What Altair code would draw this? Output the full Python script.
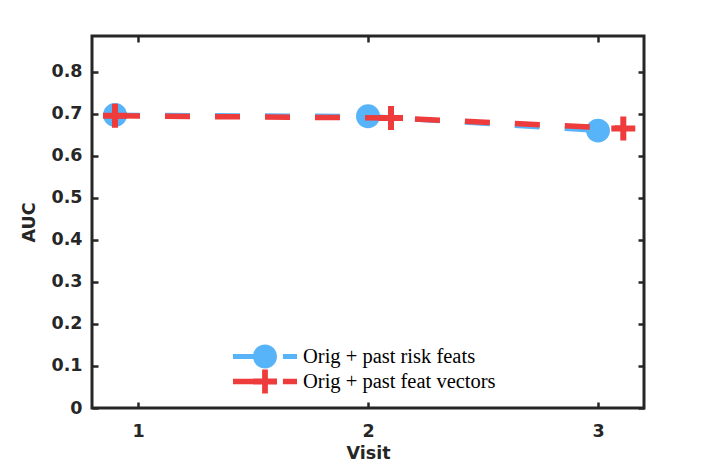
import altair as alt
import pandas as pd

# ---- data ----
series_names = ["Orig + past risk feats", "Orig + past feat vectors"]
visit_blue = [0.9, 2.0, 3.0]
auc_blue = [0.697, 0.694, 0.660]
visit_red = [0.9, 2.1, 3.11]
auc_red = [0.695, 0.690, 0.665]
x_ticks = [1, 2, 3]
y_ticks = [0, 0.1, 0.2, 0.3, 0.4, 0.5, 0.6, 0.7, 0.8]
colors = ["#58B4F8", "#EE3B3B"]

df_blue = pd.DataFrame({"visit": visit_blue, "auc": auc_blue, "series": series_names[0]})
df_red = pd.DataFrame({"visit": visit_red, "auc": auc_red, "series": series_names[1]})
df_all = pd.concat([df_blue, df_red], ignore_index=True)

W, H = 552, 372
INK = "#262626"
xscale = alt.Scale(domain=[0.8, 3.2], nice=False, zero=False)
yscale = alt.Scale(domain=[0, 0.885], nice=False, zero=False)

AX = dict(grid=False, domain=False, labelFont="DejaVu Sans", labelFontWeight="bold",
          labelFontSize=17.5, labelColor=INK, titleFont="DejaVu Sans", titleFontWeight="bold",
          titleFontSize=17.5, titleColor=INK, tickColor=INK, tickWidth=2.5, tickSize=6)

main_x = alt.Axis(orient="bottom", values=x_ticks, format="d", ticks=False, title="Visit",
                  labelPadding=14, titlePadding=5, **AX)
main_y = alt.Axis(orient="left", values=y_ticks, format="~g", ticks=False, title="AUC",
                  labelPadding=10, titlePadding=12, **AX)
bot_in = alt.Axis(orient="top", offset=-H, values=x_ticks, labels=False, title="", **AX)
top_in = alt.Axis(orient="bottom", offset=-H, values=x_ticks, labels=False, title="", **AX)
left_in = alt.Axis(orient="right", offset=-W, values=y_ticks, labels=False, title="", **AX)
right_in = alt.Axis(orient="left", offset=-W, values=y_ticks, labels=False, title="", **AX)

plus_path = "M-1,-0.25H1V0.25H-1Z M-0.25,-1H0.25V1H-0.25Z"
blue_sym = ("M-1,-0.08H0V0.08H-1Z M0.56,-0.08H1V0.08H0.56Z "
            "M0.375,0A0.375,0.375 0 1,1 -0.375,0A0.375,0.375 0 1,1 0.375,0Z")
red_sym = ("M-1,-0.085H0V0.085H-1Z M0.56,-0.085H1V0.085H0.56Z "
           "M-0.375,-0.09H0.375V0.09H-0.375Z M-0.09,-0.375H0.09V0.375H-0.09Z")

blue_line = alt.Chart(df_blue).mark_line(color=colors[0], strokeWidth=5, strokeDash=[25, 25]).encode(
    x=alt.X("visit:Q", scale=xscale, axis=main_x),
    y=alt.Y("auc:Q", scale=yscale, axis=main_y),
)
blue_pts = alt.Chart(df_blue).mark_point(filled=True, shape="circle", size=570, color=colors[0], opacity=1).encode(
    x=alt.X("visit:Q", scale=xscale, axis=bot_in),
    y=alt.Y("auc:Q", scale=yscale, axis=left_in),
)
red_line = alt.Chart(df_red).mark_line(color=colors[1], strokeWidth=5.5, strokeDash=[25, 25]).encode(
    x=alt.X("visit:Q", scale=xscale, axis=top_in),
    y=alt.Y("auc:Q", scale=yscale, axis=right_in),
)
red_pts = alt.Chart(df_red).mark_point(filled=True, shape=plus_path, size=576, color=colors[1], opacity=1).encode(
    x=alt.X("visit:Q", scale=xscale, axis=None),
    y=alt.Y("auc:Q", scale=yscale, axis=None),
)

leg = alt.Legend(title=None, orient="none", legendX=141, legendY=308, padding=0,
                 labelFont="Liberation Serif", labelFontSize=20.5, labelColor="black",
                 labelOffset=6, labelLimit=0, symbolOpacity=1, symbolStrokeWidth=0,
                 symbolSize=4096, clipHeight=25, rowPadding=0)
legend_layer = alt.Chart(df_all).mark_point(filled=True, size=4096, opacity=0).encode(
    x=alt.X("visit:Q", scale=xscale, axis=None),
    y=alt.Y("auc:Q", scale=yscale, axis=None),
    color=alt.Color("series:N", scale=alt.Scale(domain=series_names, range=colors), legend=leg),
    shape=alt.Shape("series:N", scale=alt.Scale(domain=series_names, range=[blue_sym, red_sym]), legend=leg),
)

chart = alt.layer(blue_line, blue_pts, red_line, red_pts, legend_layer).resolve_axis(
    x="independent", y="independent"
).properties(
    width=W, height=H,
    autosize=alt.AutoSizeParams(type="none"),
    padding={"left": 84, "top": 28, "right": 55, "bottom": 56},
    background="white",
).configure_view(stroke=INK, strokeWidth=3)

chart.save("out.html", embed_options={"renderer": "svg", "actions": False})
